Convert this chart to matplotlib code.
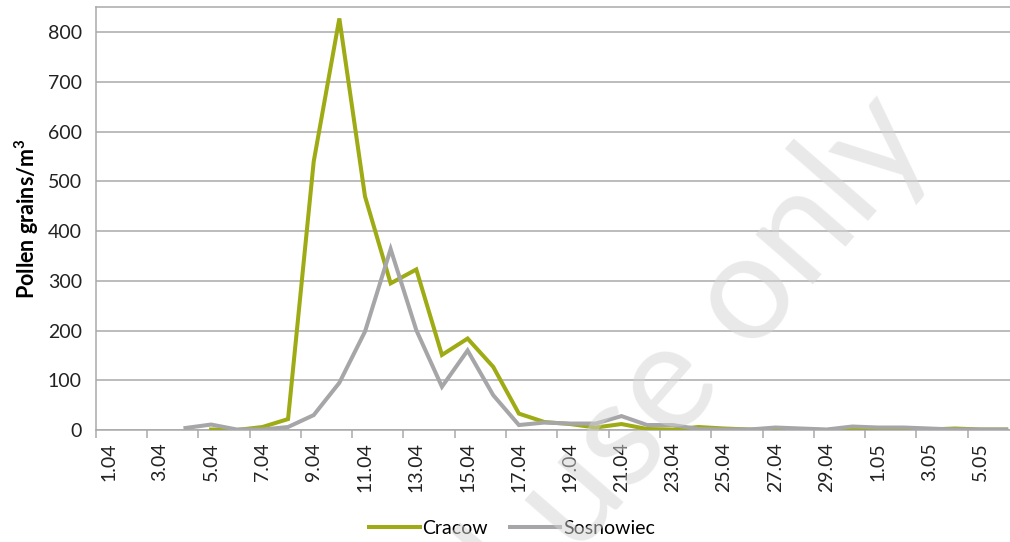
import matplotlib.pyplot as plt
from matplotlib.ticker import FixedLocator
import numpy as np

# Daily dates 1.04 - 6.05
days = [f"{d}.04" for d in range(1, 31)] + [f"{d}.05" for d in range(1, 7)]

# Pollen grains/m3 (None = no data yet)
cracow = [None, None, None, None, 1, 0, 6, 22, 540, 828, 470, 295, 323, 151, 184, 127,
          33, 16, 12, 5, 12, 2, 1, 6, 3, 1, 1, 1, 0, 2, 2, 1, 1, 3, 1, 1]
sosnowiec = [None, None, None, 4, 11, 1, 1, 6, 30, 95, 198, 364, 201, 87, 160, 70,
             10, 15, 13, 13, 28, 10, 10, 2, 1, 1, 5, 3, 1, 7, 5, 5, 3, 1, 1, 1]

yticks = [0, 100, 200, 300, 400, 500, 600, 700, 800]

plt.rcParams['font.family'] = ['Lato', 'DejaVu Sans']

W, H = 1010, 542
fig = plt.figure(figsize=(W / 100, H / 100), dpi=100)
# plot area goes a bit past the right edge, as in the cropped original
ax = fig.add_axes([95.7 / W, 1 - 430 / H, (1019 - 95.7) / W, (430 - 7) / H])
ax.set_facecolor('none')

x = np.arange(len(days))
c = np.array([np.nan if v is None else v for v in cracow], dtype=float)
s = np.array([np.nan if v is None else v for v in sosnowiec], dtype=float)

ax.plot(x, c, color='#9eab14', lw=2.9, label='Cracow', solid_joinstyle='miter', zorder=3)
ax.plot(x, s, color='#a6a6a8', lw=2.9, label='Sosnowiec', solid_joinstyle='miter', zorder=4)

ax.set_xlim(-0.5, len(days) - 0.5)
ax.set_ylim(0, 851)

ax.set_yticks(yticks)
ax.set_yticklabels([str(v) for v in yticks], fontsize=14, color='#222222')
ax.tick_params(axis='y', length=0, pad=10)
ax.yaxis.grid(True, color='#a9a9a9', lw=1.1)
ax.set_axisbelow(True)

ax.set_xticks(x[::2])
ax.set_xticklabels(days[::2], rotation=90, fontsize=14, color='#222222')
ax.tick_params(axis='x', which='major', length=0, pad=9)
ax.xaxis.set_minor_locator(FixedLocator(np.arange(-0.5, len(days), 2)))
ax.tick_params(axis='x', which='minor', length=6, color='#a9a9a9', width=1.1)

for side in ['left', 'bottom', 'top']:
    ax.spines[side].set_color('#a9a9a9')
    ax.spines[side].set_linewidth(1.1)
ax.spines['right'].set_visible(False)

ax.set_ylabel('Pollen grains/m$^\\mathregular{3}$', fontsize=15.5, fontweight='bold', labelpad=5)

fig.legend(loc='center', bbox_to_anchor=(512 / W, 1 - 528 / H), ncol=2, frameon=False,
           fontsize=14, handlelength=2.6, handletextpad=0.15, columnspacing=1.1)

# watermark
fig.text(904 / W, 1 - 116 / H, 'For personal use only', fontsize=108, color='#d4d4d4',
         alpha=0.5, rotation=49, rotation_mode='anchor', ha='right', va='center', zorder=10)

fig.savefig('out.png', dpi=100)
